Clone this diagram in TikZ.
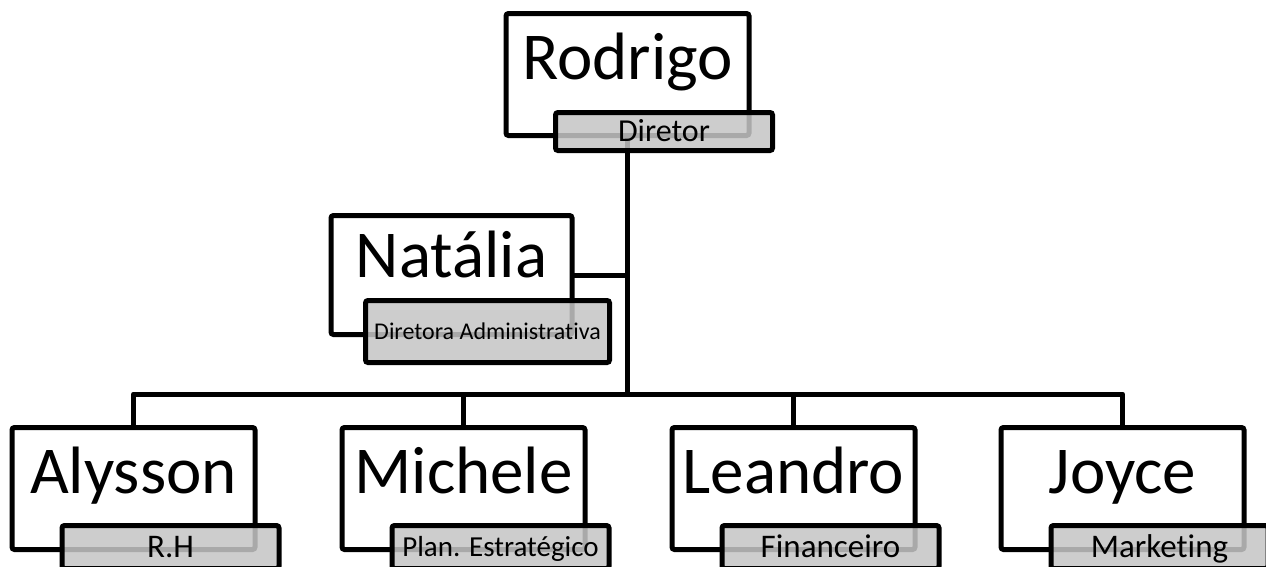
\documentclass[tikz,border=0pt]{standalone}
\usepackage{fontspec}
\setmainfont{Carlito}[Ligatures={NoCommon}]
\usetikzlibrary{backgrounds}
\definecolor{labgray}{RGB}{197,197,197}
\begin{document}
\begin{tikzpicture}[x=1pt,y=-1pt,
  mainbox/.style={draw, line width=5pt, fill=white, rounded corners=2.5pt,
    minimum width=243pt, minimum height=122pt, inner sep=0pt, outer sep=0pt},
  labelbox/.style={draw, line width=5pt, fill=labgray, fill opacity=0.86,
    text opacity=1, rounded corners=2.5pt, inner sep=0pt, outer sep=0pt,
    minimum width=217pt, minimum height=38pt, text depth=0pt},
  labsize/.style n args={2}{font=\fontsize{#1}{#1}\selectfont, text height=#2},
  nametext/.style={anchor=base, inner sep=0pt, font=\fontsize{67}{70}\selectfont},
  conn/.style={line width=5pt, line join=round}]
\useasboundingbox (0,0) rectangle (1266,566);

% main boxes
\node[mainbox] (rod) at (627.5,74.5) {};
\node[mainbox, minimum width=241pt, minimum height=119pt] (nat) at (451.5,275) {};
\node[mainbox] (aly) at (133.5,488.5) {};
\node[mainbox] (mic) at (463.5,488.5) {};
\node[mainbox] (lea) at (793.5,488.5) {};
\node[mainbox] (joy) at (1122.5,488.5) {};

\coordinate (bus) at (627.5,394);

% connectors
\begin{pgfonlayer}{background}
\draw[conn] (rod.south) -- (bus);
\draw[conn] (nat.east) -- (nat.east -| bus);
\draw[conn] (aly.north) |- (bus) -| (joy.north);
\draw[conn] (mic.north) |- (bus);
\draw[conn] (lea.north) |- (bus);
\end{pgfonlayer}

% names
\node[nametext] (rodt) at (627.5,79) {Rodrigo};
\node[nametext] (natt) at (451.5,277) {Natália};
\node[nametext] (alyt) at (133.5,493) {Alysson};
\node[nametext] (mict) at (463.5,493) {Michele};
\node[nametext] (leat) at (793.5,493) {Leandro};
\node[nametext] (joyt) at (1122.5,493) {Joyce};

% labels
\node[labelbox, labsize={32}{20.6pt}] (rodl) at (664,131.5) {Diretor};
\node[labelbox, labsize={24}{15.5pt}, minimum width=244pt, minimum height=62pt] (natl) at (487.5,331.5) {Diretora Administrativa};
\node[labelbox, labsize={33}{21.2pt}, minimum height=43pt] (alyl) at (170.5,547) {R.H};
\node[labelbox, labsize={29}{18.7pt}, minimum height=43pt] (micl) at (500.5,547) {Plan. Estratégico};
\node[labelbox, labsize={33}{21.2pt}, minimum height=43pt] (leal) at (830.5,547) {Financeiro};
\node[labelbox, labsize={33}{21.2pt}, minimum height=43pt] (joyl) at (1159.5,547) {Marketing};
\end{tikzpicture}
\end{document}
